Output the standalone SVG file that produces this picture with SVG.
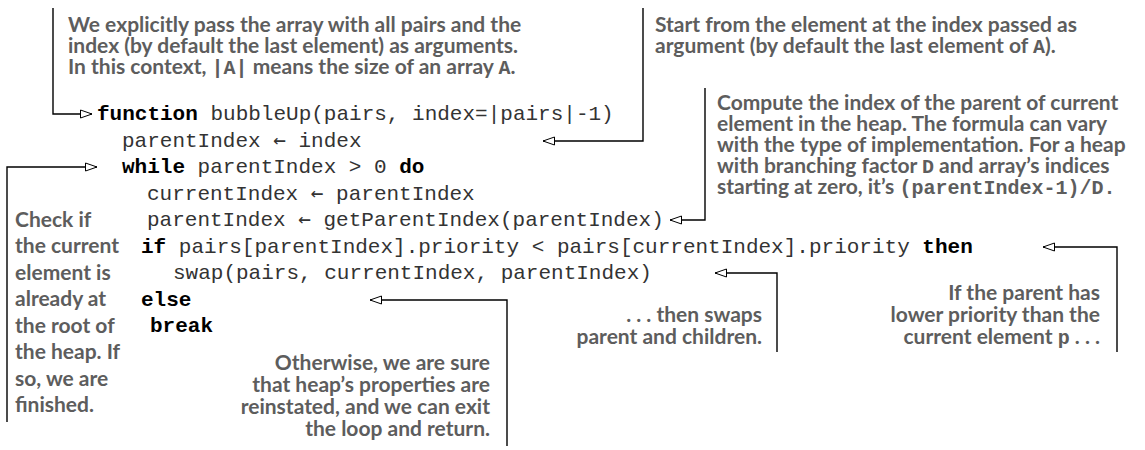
<svg xmlns="http://www.w3.org/2000/svg" width="1145" height="450" viewBox="0 0 1145 450">
<defs>
<style>
.note{font-family:Lato,"Liberation Sans",sans-serif;font-weight:700;font-size:21px;fill:#5d5d5d}
.nm{font-family:"Liberation Mono",monospace;font-weight:700;font-size:20px;fill:#5d5d5d}
.code{font-family:"Liberation Mono","DejaVu Sans Mono",monospace;font-size:21px;fill:#333}
.ar{font-family:"DejaVu Sans Mono","Liberation Mono",monospace}
.kw{font-weight:700;fill:#000}
.end{text-anchor:end}
.conn{fill:none;stroke:#000;stroke-width:1.4}
</style>
<marker id="tri" viewBox="0 0 13 10" refX="12.5" refY="5" markerWidth="13" markerHeight="10" orient="auto" markerUnits="userSpaceOnUse">
<path d="M1,1 L12.5,5 L1,9 Z" fill="#fff" stroke="#000" stroke-width="1"/>
</marker>
</defs>
<rect width="1145" height="450" fill="#fff"/>

<g id="code">
<text class="code" x="97" y="120"><tspan class="kw">function</tspan> bubbleUp(pairs, index=|pairs|-1)</text>
<text class="code" x="122" y="146.5">parentIndex <tspan class="ar">←</tspan> index</text>
<text class="code" x="122" y="173"><tspan class="kw">while</tspan> parentIndex &gt; 0 <tspan class="kw">do</tspan></text>
<text class="code" x="147" y="199.5">currentIndex <tspan class="ar">←</tspan> parentIndex</text>
<text class="code" x="147" y="226">parentIndex <tspan class="ar">←</tspan> getParentIndex(parentIndex)</text>
<text class="code" x="141" y="252.5"><tspan class="kw">if</tspan> pairs[parentIndex].priority &lt; pairs[currentIndex].priority <tspan class="kw">then</tspan></text>
<text class="code" x="173" y="279">swap(pairs, currentIndex, parentIndex)</text>
<text class="code kw" x="141" y="305.5">else</text>
<text class="code kw" x="150" y="332">break</text>
</g>

<g id="note-args">
<text class="note" x="68" y="32">We explicitly pass the array with all pairs and the</text>
<text class="note" x="68" y="53">index (by default the last element) as arguments.</text>
<text class="note" x="68" y="74">In this context, <tspan class="nm">|A|</tspan> means the size of an array <tspan class="nm">A</tspan>.</text>
</g>

<g id="note-start">
<text class="note" x="655" y="32">Start from the element at the index passed as</text>
<text class="note" x="655" y="53">argument (by default the last element of <tspan class="nm">A</tspan>).</text>
</g>

<g id="note-parent">
<text class="note" x="717" y="110">Compute the index of the parent of current</text>
<text class="note" x="717" y="131">element in the heap. The formula can vary</text>
<text class="note" x="717" y="152">with the type of implementation. For a heap</text>
<text class="note" x="717" y="173">with branching factor <tspan class="nm">D</tspan> and array’s indices</text>
<text class="note" x="717" y="194">starting at zero, it’s <tspan class="nm">(parentIndex-1)/D.</tspan></text>
</g>

<g id="note-root">
<text class="note" x="15" y="226.5">Check if</text>
<text class="note" x="15" y="253">the current</text>
<text class="note" x="15" y="279.5">element is</text>
<text class="note" x="15" y="306">already at</text>
<text class="note" x="15" y="332.5">the root of</text>
<text class="note" x="15" y="359">the heap. If</text>
<text class="note" x="15" y="385.5">so, we are</text>
<text class="note" x="15" y="412">finished.</text>
</g>

<g id="note-priority">
<text class="note end" x="1100" y="300">If the parent has</text>
<text class="note end" x="1100" y="322">lower priority than the</text>
<text class="note end" x="1100" y="344">current element <tspan class="nm">p</tspan> . . .</text>
</g>

<g id="note-swap">
<text class="note end" x="762" y="322">. . . then swaps</text>
<text class="note end" x="762" y="344">parent and children.</text>
</g>

<g id="note-else">
<text class="note end" x="490" y="370">Otherwise, we are sure</text>
<text class="note end" x="490" y="392">that heap’s properties are</text>
<text class="note end" x="490" y="414">reinstated, and we can exit</text>
<text class="note end" x="490" y="436">the loop and return.</text>
</g>

<g id="connectors">
<path class="conn" d="M53,8 V114 H92" marker-end="url(#tri)"/>
<path class="conn" d="M643,8 V141 H543" marker-end="url(#tri)"/>
<path class="conn" d="M705,88 V220 H670" marker-end="url(#tri)"/>
<path class="conn" d="M7,422 V167 H97" marker-end="url(#tri)"/>
<path class="conn" d="M1117,352 V247 H1043" marker-end="url(#tri)"/>
<path class="conn" d="M777,352 V273 H715" marker-end="url(#tri)"/>
<path class="conn" d="M507,446 V300 H370" marker-end="url(#tri)"/>
</g>
</svg>
